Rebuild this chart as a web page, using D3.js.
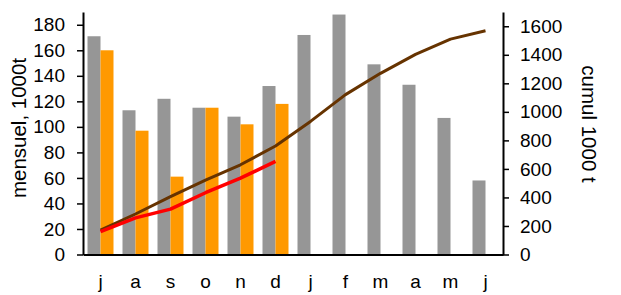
<!DOCTYPE html>
<html>
<head>
<meta charset="utf-8">
<script src="https://cdn.jsdelivr.net/npm/d3@7"></script>
<style>
  body { margin: 0; background: #fff; }
  svg text { font-family: "Liberation Sans", Arial, sans-serif; fill: #000; }
</style>
</head>
<body>
<svg id="chart" width="621" height="295"></svg>
<script>
// months, july to june
const months = ["j", "a", "s", "o", "n", "d", "j", "f", "m", "a", "m", "j"];
// monthly values, 1000t
const grayMonthly = [171, 113, 122, 115, 108, 132, 172, 188, 149, 133, 107, 58];
const orangeMonthly = [160, 97, 61, 115, 102, 118];
// cumulative, 1000 t
const brownCumul = [171, 284, 406, 521, 629, 761, 933, 1121, 1270, 1403, 1510, 1568];
const redCumul = [160, 257, 318, 433, 535, 653];

const leftTicks = [0, 20, 40, 60, 80, 100, 120, 140, 160, 180];
const rightTicks = [0, 200, 400, 600, 800, 1000, 1200, 1400, 1600];

const svg = d3.select("#chart");
const m = { left: 83, right: 503, top: 12, bottom: 254.5 };

const x = d3.scaleBand().domain(d3.range(months.length)).range([m.left, m.right]);
const yL = d3.scaleLinear().domain([0, 190]).range([m.bottom, m.top]);
const yR = d3.scaleLinear().domain([0, 1700]).range([m.bottom, m.top]);

const barW = 13;
const mid = i => x(i) + x.bandwidth() / 2;

// bars
svg.append("g").selectAll("rect").data(grayMonthly).join("rect")
  .attr("x", (d, i) => mid(i) - barW)
  .attr("y", d => yL(d))
  .attr("width", barW)
  .attr("height", d => yL(0) - yL(d))
  .attr("fill", "#969696");

svg.append("g").selectAll("rect").data(orangeMonthly).join("rect")
  .attr("x", (d, i) => mid(i))
  .attr("y", d => yL(d))
  .attr("width", barW)
  .attr("height", d => yL(0) - yL(d))
  .attr("fill", "#FF9900");

// lines
const line = d3.line().x((d, i) => mid(i)).y(d => yR(d));
svg.append("path").datum(brownCumul).attr("d", line)
  .attr("fill", "none").attr("stroke", "#663300").attr("stroke-width", 3)
  .attr("stroke-linejoin", "round");
svg.append("path").datum(redCumul).attr("d", line)
  .attr("fill", "none").attr("stroke", "#FF0000").attr("stroke-width", 3.5)
  .attr("stroke-linejoin", "round");

// axes
const gL = svg.append("g").attr("transform", `translate(${m.left},0)`)
  .call(d3.axisLeft(yL).tickValues(leftTicks).tickSize(6).tickPadding(12).tickSizeOuter(0));
const gR = svg.append("g").attr("transform", `translate(${m.right},0)`)
  .call(d3.axisRight(yR).tickValues(rightTicks).tickFormat(d3.format("d"))
    .tickSize(6).tickPadding(11).tickSizeOuter(0));
const gB = svg.append("g").attr("transform", `translate(0,${m.bottom})`)
  .call(d3.axisBottom(x).tickFormat(i => months[i]).tickSize(0).tickPadding(20).tickSizeOuter(0));

[gL, gR, gB].forEach(g => {
  g.selectAll("text").attr("font-size", 19).attr("font-family", "Liberation Sans, Arial, sans-serif");
  g.select(".domain").attr("stroke", "#000").attr("stroke-width", 2);
  g.selectAll(".tick line").attr("stroke", "#000").attr("stroke-width", 1.5);
});

// axis titles
svg.append("text")
  .attr("transform", `translate(26,128) rotate(-90)`)
  .attr("text-anchor", "middle")
  .attr("font-size", 20.5)
  .text("mensuel, 1000t");

svg.append("text")
  .attr("transform", `translate(582,124) rotate(90)`)
  .attr("text-anchor", "middle")
  .attr("font-size", 20.5)
  .text("cumul 1000 t");
</script>
</body>
</html>
